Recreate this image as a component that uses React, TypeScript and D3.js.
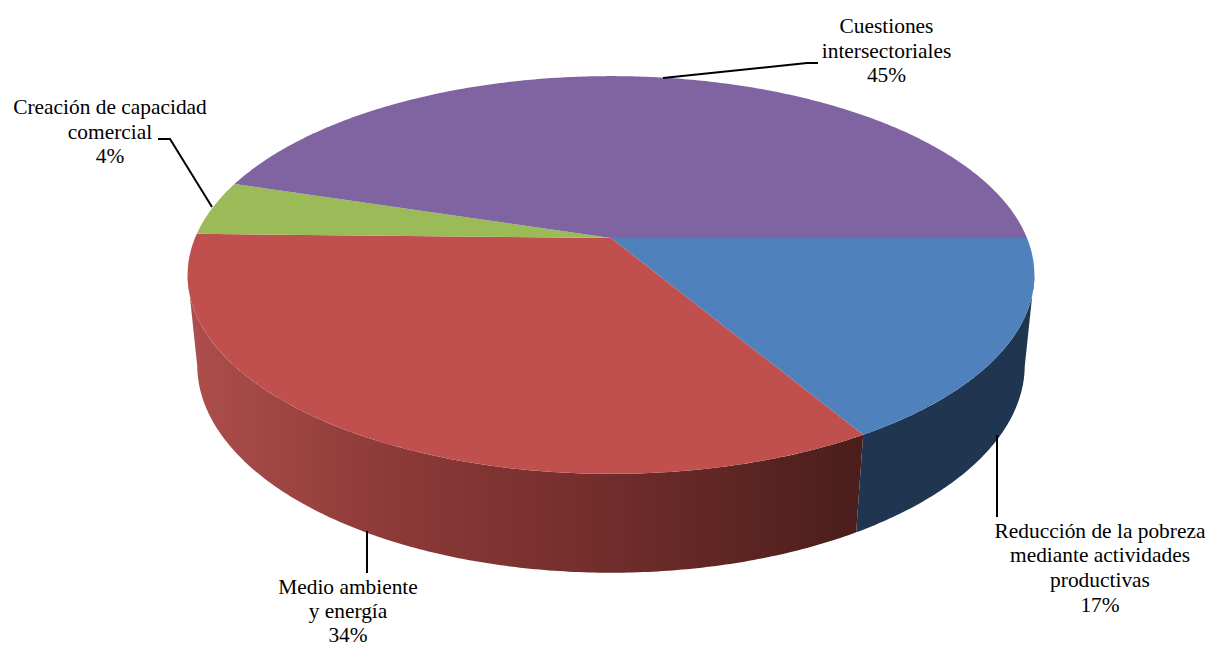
import React from "react";
import * as d3 from "d3";

const categories = [
  ["Reducción de la pobreza", "mediante actividades", "productivas"],
  ["Medio ambiente", "y energía"],
  ["Creación de capacidad", "comercial"],
  ["Cuestiones", "intersectoriales"],
];
const shares = [16.5, 33.85, 4.45, 45.2];
const topColors = ["#4f81bd", "#c0504d", "#9bbb59", "#8064a2"];

const W = 1208;
const H = 647;
const FONT = "'Liberation Serif', 'Times New Roman', serif";
const cx = 611;
const topDisc = { a: 416, b: 192, y0: 238, k: 0.186 };
const baseDisc = { a: 407, b: 201, y0: 327.6, k: 0.18 };
const tangentA = 0.187; // angle (rad) where the rim is widest: the wall's visible limits

const labelCenters: [number, number][] = [
  [1100, 537.5],
  [348, 594],
  [110, 114],
  [886.5, 33],
];
const lineSteps = [24.7, 24, 24.7, 24.7];
const leaders: [number, number][][] = [
  [[997, 435], [997, 517]],
  [[367, 531], [367, 573]],
  [[212, 207], [170, 139], [158, 139]],
  [[663, 78], [807, 63], [818, 63]],
];

type Disc = typeof topDisc;
const project = (d: Disc, t: number): [number, number] => {
  const X = Math.cos(t);
  const Y = Math.sin(t);
  const w = 1 - d.k * Y;
  return [cx + (d.a * X) / w, d.y0 + (d.b * Y) / w];
};
const arcPoints = (d: Disc, t0: number, t1: number): [number, number][] => {
  const n = Math.max(2, Math.ceil(Math.abs(t1 - t0) / 0.01));
  return d3.range(n + 1).map((i) => project(d, t0 + ((t1 - t0) * i) / n));
};

const pie = d3
  .pie<number>()
  .sort(null)
  .value((v) => v)
  .startAngle(Math.PI / 2)
  .endAngle(Math.PI / 2 + 2 * Math.PI);
const arcs = pie(shares).map((a) => ({
  t0: a.startAngle - Math.PI / 2,
  t1: a.endAngle - Math.PI / 2,
  value: a.value,
  index: a.index,
}));
const line = d3.line();
const pct = (v: number) => `${d3.format(".0f")(v)}%`;

export default function App() {
  const wallEnd = Math.PI - tangentA;
  const blueWall = [
    ...arcPoints(topDisc, tangentA, arcs[0].t1),
    ...arcPoints(baseDisc, arcs[0].t1, tangentA),
  ];
  const redWall = [
    ...arcPoints(topDisc, arcs[1].t0, wallEnd),
    ...arcPoints(baseDisc, wallEnd, arcs[1].t0),
  ];
  return (
    <svg
      width={W}
      height={H}
      viewBox={`0 0 ${W} ${H}`}
      style={{ position: "absolute", left: 0, top: 0, display: "block", background: "#fff" }}
    >
      <defs>
        <linearGradient id="redWall" gradientUnits="userSpaceOnUse" x1={187} x2={862} y1={0} y2={0}>
          <stop offset="0" stopColor="#ad4f4c" />
          <stop offset="0.3" stopColor="#8d3a38" />
          <stop offset="0.6" stopColor="#732e2c" />
          <stop offset="1" stopColor="#4a1e1b" />
        </linearGradient>
      </defs>
      <path d={line(blueWall) + "Z"} fill="#1f3550" />
      <path d={line(redWall) + "Z"} fill="url(#redWall)" />
      {arcs.map((a) => (
        <path
          key={a.index}
          d={line([[cx, topDisc.y0], ...arcPoints(topDisc, a.t0, a.t1)]) + "Z"}
          fill={topColors[a.index]}
        />
      ))}
      {leaders.map((pts, i) => (
        <path key={i} d={line(pts) ?? ""} fill="none" stroke="#000" strokeWidth={2} />
      ))}
      {categories.map((lines, i) => (
        <text
          key={i}
          x={labelCenters[i][0]}
          y={labelCenters[i][1]}
          textAnchor="middle"
          fontFamily={FONT}
          fontSize={21.4}
          fill="#000"
        >
          {[...lines, pct(arcs[i].value)].map((s, j) => (
            <tspan key={j} x={labelCenters[i][0]} y={labelCenters[i][1] + j * lineSteps[i]}>
              {s}
            </tspan>
          ))}
        </text>
      ))}
    </svg>
  );
}
